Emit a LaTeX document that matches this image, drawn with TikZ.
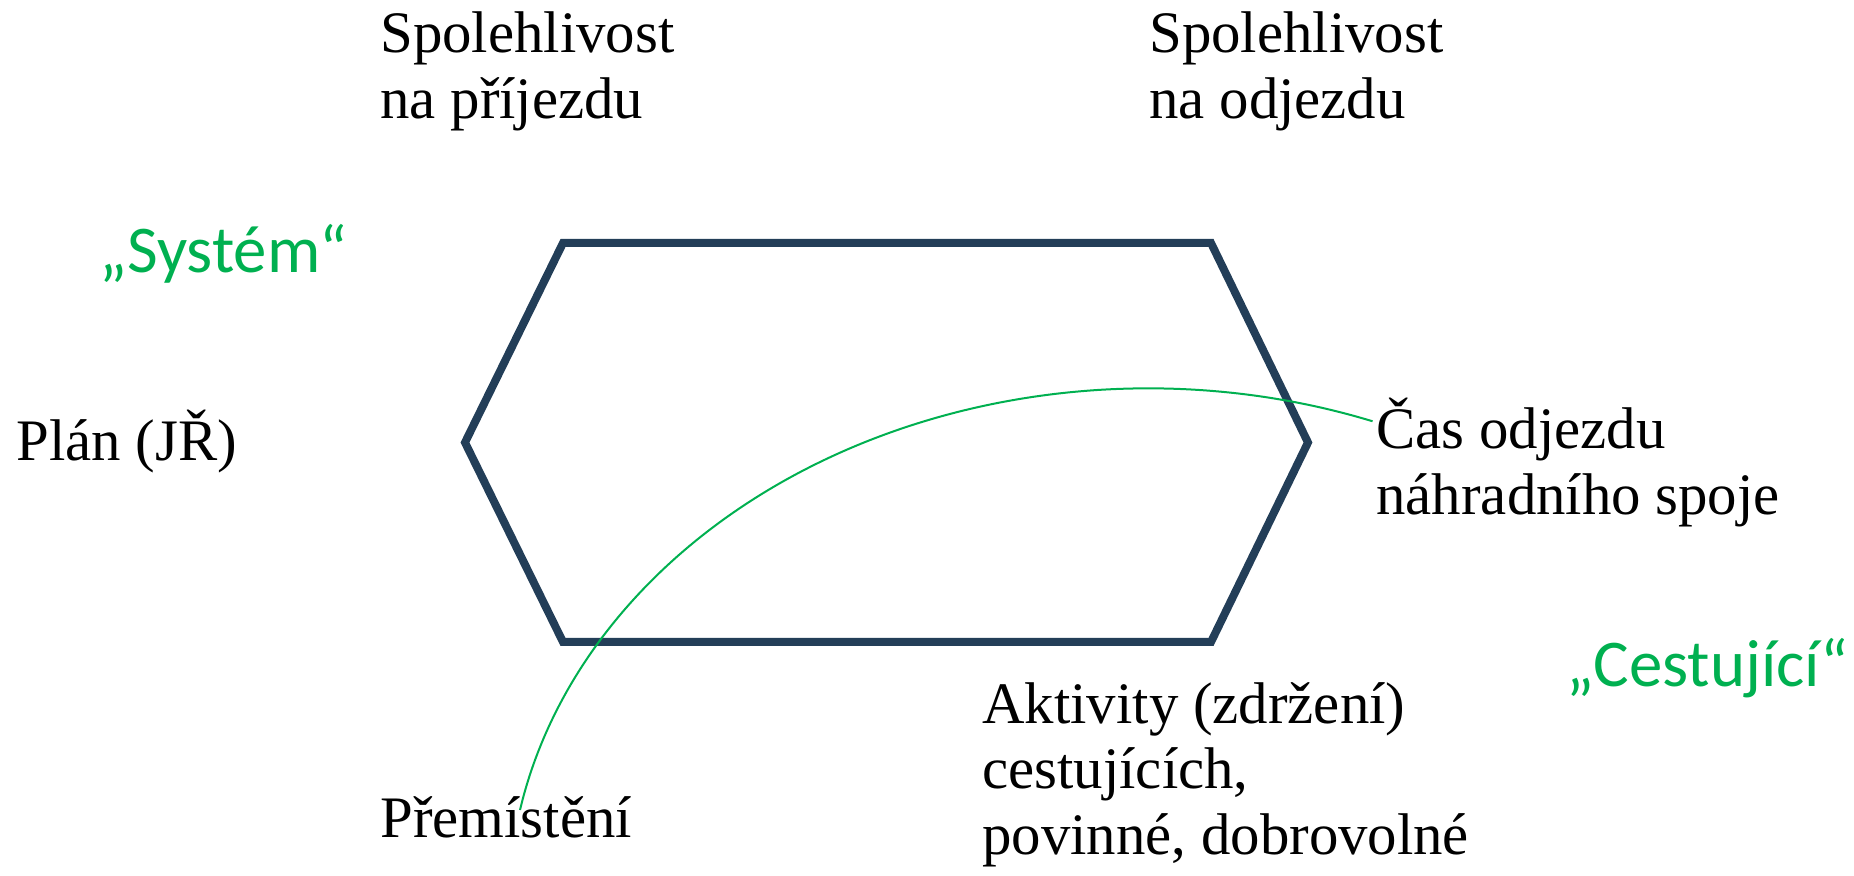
\documentclass[tikz,border=0pt]{standalone}
\usepackage{fontspec}
\setmainfont{Liberation Serif}
\newfontfamily\greenfont{Carlito}
\definecolor{navy}{RGB}{35,62,88}
\definecolor{pgreen}{RGB}{0,176,80}
\begin{document}
\begin{tikzpicture}[x=0.5pt,y=-0.5pt,
  lbl/.style={anchor=base west, inner sep=0pt, align=left, font=\fontsize{29.4}{33}\selectfont},
  glbl/.style={anchor=base west, inner sep=0pt, text=pgreen, font=\greenfont\fontsize{33.4}{38}\selectfont},
  hexline/.style={draw=navy, line width=4pt, line join=miter},
  link/.style={draw=pgreen, line width=1pt}]
\useasboundingbox (0,0) rectangle (1854,876);

% hexagon
\coordinate (h1) at (563,243);
\coordinate (h2) at (1211,243);
\coordinate (h3) at (1308,442.5);
\coordinate (h4) at (1211,642);
\coordinate (h5) at (563,642);
\coordinate (h6) at (465,442.5);
\draw[hexline] (h1) -- (h2) -- (h3) -- (h4) -- (h5) -- (h6) -- cycle;

% labels (base anchor = baseline of the last line)
\node[lbl] (sp1) at (380,119) {Spolehlivost\\na příjezdu};
\node[lbl] (sp2) at (1149,119) {Spolehlivost\\na odjezdu};
\node[glbl] (sys) at (99,273) {„Systém“};
\node[lbl] (plan) at (16,461) {Plán (JŘ)};
\node[lbl] (cas) at (1376,515) {Čas odjezdu\\náhradního spoje};
\node[glbl] (ces) at (1566,687) {„Cestující“};
\node[lbl] (akt) at (982,855) {Aktivity (zdržení)\\cestujících,\\povinné, dobrovolné};
\node[lbl] (prem) at (380,838) {Přemístění};

% green arc from Přemístění to Čas odjezdu
\coordinate (cs) at (520,810);
\draw[link] (cs) arc[start angle=-169.1, end angle=-69.5, x radius=640, y radius=520];
\end{tikzpicture}
\end{document}
